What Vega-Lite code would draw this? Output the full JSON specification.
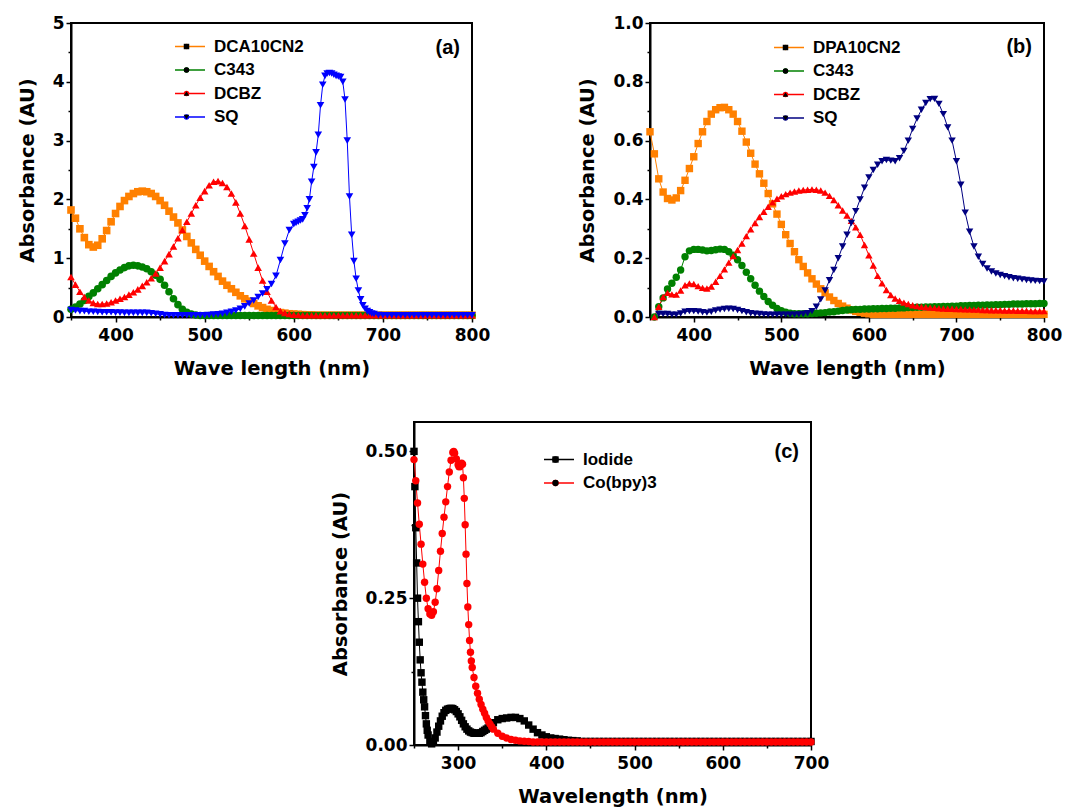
{
"$schema":"https://vega.github.io/schema/vega-lite/v6.json",
"background":"white",
"padding":{"left":16,"top":13,"right":5,"bottom":0},
"spacing":42,
"resolve":{"scale":{"x":"independent","y":"independent","color":"independent","shape":"independent","stroke":"independent"},"legend":{"color":"independent","shape":"independent","stroke":"independent"}},
"config":{
"view":{"stroke":"black","strokeWidth":2},
"axis":{"grid":false,"domainColor":"black","domainWidth":2,"tickColor":"black","tickWidth":1.5,"labelFont":"DejaVu Sans","labelFontWeight":"bold","labelFontSize":17,"labelColor":"black","titleFont":"DejaVu Sans","titleFontWeight":"bold","titleFontSize":19.5,"titleColor":"black","labelFlush":false,"labelOverlap":false},
"axisX":{"labelPadding":5,"titlePadding":16},
"axisY":{"labelPadding":2,"titlePadding":15},
"legend":{"labelFont":"Liberation Sans","labelFontWeight":"bold","labelFontSize":17,"labelColor":"black","padding":0,"clipHeight":17,"rowPadding":5.5,"title":null},
"title":{"font":"Liberation Sans","fontWeight":"bold","fontSize":20,"color":"black","anchor":"end","frame":"group","dx":-12}
},
"datasets":{
"a":[
{"s":"DCA10CN2","x":350,"y":1.82},{"s":"DCA10CN2","x":355,"y":1.68},{"s":"DCA10CN2","x":360,"y":1.5},{"s":"DCA10CN2","x":365,"y":1.35},{"s":"DCA10CN2","x":370,"y":1.23},{"s":"DCA10CN2","x":375,"y":1.19},{"s":"DCA10CN2","x":380,"y":1.22},{"s":"DCA10CN2","x":385,"y":1.33},{"s":"DCA10CN2","x":390,"y":1.47},{"s":"DCA10CN2","x":395,"y":1.62},{"s":"DCA10CN2","x":400,"y":1.76},{"s":"DCA10CN2","x":405,"y":1.88},{"s":"DCA10CN2","x":410,"y":1.98},{"s":"DCA10CN2","x":415,"y":2.05},{"s":"DCA10CN2","x":420,"y":2.1},{"s":"DCA10CN2","x":425,"y":2.13},{"s":"DCA10CN2","x":430,"y":2.14},{"s":"DCA10CN2","x":435,"y":2.13},{"s":"DCA10CN2","x":440,"y":2.1},{"s":"DCA10CN2","x":445,"y":2.05},{"s":"DCA10CN2","x":450,"y":1.98},{"s":"DCA10CN2","x":455,"y":1.9},{"s":"DCA10CN2","x":460,"y":1.8},{"s":"DCA10CN2","x":465,"y":1.7},{"s":"DCA10CN2","x":470,"y":1.6},{"s":"DCA10CN2","x":475,"y":1.48},{"s":"DCA10CN2","x":480,"y":1.37},{"s":"DCA10CN2","x":485,"y":1.26},{"s":"DCA10CN2","x":490,"y":1.15},{"s":"DCA10CN2","x":495,"y":1.05},{"s":"DCA10CN2","x":500,"y":0.95},{"s":"DCA10CN2","x":505,"y":0.86},{"s":"DCA10CN2","x":510,"y":0.77},{"s":"DCA10CN2","x":515,"y":0.69},{"s":"DCA10CN2","x":520,"y":0.61},{"s":"DCA10CN2","x":525,"y":0.54},{"s":"DCA10CN2","x":530,"y":0.48},{"s":"DCA10CN2","x":535,"y":0.42},{"s":"DCA10CN2","x":540,"y":0.36},{"s":"DCA10CN2","x":545,"y":0.31},{"s":"DCA10CN2","x":550,"y":0.27},{"s":"DCA10CN2","x":555,"y":0.23},{"s":"DCA10CN2","x":560,"y":0.19},{"s":"DCA10CN2","x":565,"y":0.16},{"s":"DCA10CN2","x":570,"y":0.13},{"s":"DCA10CN2","x":575,"y":0.11},{"s":"DCA10CN2","x":580,"y":0.09},{"s":"DCA10CN2","x":585,"y":0.075},{"s":"DCA10CN2","x":590,"y":0.065},{"s":"DCA10CN2","x":595,"y":0.055},{"s":"DCA10CN2","x":600,"y":0.05},{"s":"DCA10CN2","x":605,"y":0.045},{"s":"DCA10CN2","x":610,"y":0.04},{"s":"DCA10CN2","x":615,"y":0.035},{"s":"DCA10CN2","x":620,"y":0.035},{"s":"DCA10CN2","x":625,"y":0.03},{"s":"DCA10CN2","x":630,"y":0.03},{"s":"DCA10CN2","x":635,"y":0.03},{"s":"DCA10CN2","x":640,"y":0.03},{"s":"DCA10CN2","x":645,"y":0.03},{"s":"DCA10CN2","x":650,"y":0.03},{"s":"DCA10CN2","x":655,"y":0.03},{"s":"DCA10CN2","x":660,"y":0.03},{"s":"DCA10CN2","x":665,"y":0.03},{"s":"DCA10CN2","x":670,"y":0.03},{"s":"DCA10CN2","x":675,"y":0.03},{"s":"DCA10CN2","x":680,"y":0.03},{"s":"DCA10CN2","x":685,"y":0.03},{"s":"DCA10CN2","x":690,"y":0.03},{"s":"DCA10CN2","x":695,"y":0.03},{"s":"DCA10CN2","x":700,"y":0.03},{"s":"DCA10CN2","x":705,"y":0.03},{"s":"DCA10CN2","x":710,"y":0.03},{"s":"DCA10CN2","x":715,"y":0.03},{"s":"DCA10CN2","x":720,"y":0.03},{"s":"DCA10CN2","x":725,"y":0.03},{"s":"DCA10CN2","x":730,"y":0.03},{"s":"DCA10CN2","x":735,"y":0.03},{"s":"DCA10CN2","x":740,"y":0.03},{"s":"DCA10CN2","x":745,"y":0.03},{"s":"DCA10CN2","x":750,"y":0.03},{"s":"DCA10CN2","x":755,"y":0.03},{"s":"DCA10CN2","x":760,"y":0.03},{"s":"DCA10CN2","x":765,"y":0.03},{"s":"DCA10CN2","x":770,"y":0.03},{"s":"DCA10CN2","x":775,"y":0.03},{"s":"DCA10CN2","x":780,"y":0.03},{"s":"DCA10CN2","x":785,"y":0.03},{"s":"DCA10CN2","x":790,"y":0.03},{"s":"DCA10CN2","x":795,"y":0.03},{"s":"DCA10CN2","x":800,"y":0.03},
{"s":"C343","x":350,"y":0.13},{"s":"C343","x":355,"y":0.17},{"s":"C343","x":360,"y":0.22},{"s":"C343","x":365,"y":0.28},{"s":"C343","x":370,"y":0.35},{"s":"C343","x":375,"y":0.41},{"s":"C343","x":380,"y":0.48},{"s":"C343","x":385,"y":0.55},{"s":"C343","x":390,"y":0.62},{"s":"C343","x":395,"y":0.69},{"s":"C343","x":400,"y":0.75},{"s":"C343","x":405,"y":0.8},{"s":"C343","x":410,"y":0.84},{"s":"C343","x":415,"y":0.87},{"s":"C343","x":420,"y":0.88},{"s":"C343","x":425,"y":0.87},{"s":"C343","x":430,"y":0.85},{"s":"C343","x":435,"y":0.82},{"s":"C343","x":440,"y":0.77},{"s":"C343","x":445,"y":0.71},{"s":"C343","x":450,"y":0.64},{"s":"C343","x":455,"y":0.54},{"s":"C343","x":460,"y":0.43},{"s":"C343","x":465,"y":0.31},{"s":"C343","x":470,"y":0.21},{"s":"C343","x":475,"y":0.13},{"s":"C343","x":480,"y":0.08},{"s":"C343","x":485,"y":0.05},{"s":"C343","x":490,"y":0.035},{"s":"C343","x":495,"y":0.025},{"s":"C343","x":500,"y":0.025},{"s":"C343","x":505,"y":0.025},{"s":"C343","x":510,"y":0.025},{"s":"C343","x":515,"y":0.025},{"s":"C343","x":520,"y":0.025},{"s":"C343","x":525,"y":0.025},{"s":"C343","x":530,"y":0.025},{"s":"C343","x":535,"y":0.025},{"s":"C343","x":540,"y":0.025},{"s":"C343","x":545,"y":0.025},{"s":"C343","x":550,"y":0.025},{"s":"C343","x":555,"y":0.025},{"s":"C343","x":560,"y":0.025},{"s":"C343","x":565,"y":0.025},{"s":"C343","x":570,"y":0.025},{"s":"C343","x":575,"y":0.025},{"s":"C343","x":580,"y":0.025},{"s":"C343","x":585,"y":0.025},{"s":"C343","x":590,"y":0.025},{"s":"C343","x":595,"y":0.025},{"s":"C343","x":600,"y":0.025},{"s":"C343","x":605,"y":0.025},{"s":"C343","x":610,"y":0.025},{"s":"C343","x":615,"y":0.025},{"s":"C343","x":620,"y":0.025},{"s":"C343","x":625,"y":0.025},{"s":"C343","x":630,"y":0.025},{"s":"C343","x":635,"y":0.025},{"s":"C343","x":640,"y":0.025},{"s":"C343","x":645,"y":0.025},{"s":"C343","x":650,"y":0.025},{"s":"C343","x":655,"y":0.025},{"s":"C343","x":660,"y":0.025},{"s":"C343","x":665,"y":0.025},{"s":"C343","x":670,"y":0.025},{"s":"C343","x":675,"y":0.025},{"s":"C343","x":680,"y":0.025},{"s":"C343","x":685,"y":0.025},{"s":"C343","x":690,"y":0.025},{"s":"C343","x":695,"y":0.025},{"s":"C343","x":700,"y":0.025},{"s":"C343","x":705,"y":0.025},{"s":"C343","x":710,"y":0.025},{"s":"C343","x":715,"y":0.025},{"s":"C343","x":720,"y":0.025},{"s":"C343","x":725,"y":0.025},{"s":"C343","x":730,"y":0.025},{"s":"C343","x":735,"y":0.025},{"s":"C343","x":740,"y":0.025},{"s":"C343","x":745,"y":0.025},{"s":"C343","x":750,"y":0.025},{"s":"C343","x":755,"y":0.025},{"s":"C343","x":760,"y":0.025},{"s":"C343","x":765,"y":0.025},{"s":"C343","x":770,"y":0.025},{"s":"C343","x":775,"y":0.025},{"s":"C343","x":780,"y":0.025},{"s":"C343","x":785,"y":0.025},{"s":"C343","x":790,"y":0.025},{"s":"C343","x":795,"y":0.025},{"s":"C343","x":800,"y":0.025},
{"s":"DCBZ","x":350,"y":0.68},{"s":"DCBZ","x":355,"y":0.55},{"s":"DCBZ","x":360,"y":0.43},{"s":"DCBZ","x":365,"y":0.34},{"s":"DCBZ","x":370,"y":0.28},{"s":"DCBZ","x":375,"y":0.24},{"s":"DCBZ","x":380,"y":0.22},{"s":"DCBZ","x":385,"y":0.22},{"s":"DCBZ","x":390,"y":0.23},{"s":"DCBZ","x":395,"y":0.25},{"s":"DCBZ","x":400,"y":0.28},{"s":"DCBZ","x":405,"y":0.31},{"s":"DCBZ","x":410,"y":0.34},{"s":"DCBZ","x":415,"y":0.38},{"s":"DCBZ","x":420,"y":0.42},{"s":"DCBZ","x":425,"y":0.47},{"s":"DCBZ","x":430,"y":0.53},{"s":"DCBZ","x":435,"y":0.59},{"s":"DCBZ","x":440,"y":0.66},{"s":"DCBZ","x":445,"y":0.74},{"s":"DCBZ","x":450,"y":0.84},{"s":"DCBZ","x":455,"y":0.95},{"s":"DCBZ","x":460,"y":1.07},{"s":"DCBZ","x":465,"y":1.2},{"s":"DCBZ","x":470,"y":1.34},{"s":"DCBZ","x":475,"y":1.48},{"s":"DCBZ","x":480,"y":1.62},{"s":"DCBZ","x":485,"y":1.76},{"s":"DCBZ","x":490,"y":1.9},{"s":"DCBZ","x":495,"y":2.03},{"s":"DCBZ","x":500,"y":2.14},{"s":"DCBZ","x":505,"y":2.24},{"s":"DCBZ","x":510,"y":2.3},{"s":"DCBZ","x":515,"y":2.31},{"s":"DCBZ","x":520,"y":2.28},{"s":"DCBZ","x":525,"y":2.21},{"s":"DCBZ","x":530,"y":2.1},{"s":"DCBZ","x":535,"y":1.95},{"s":"DCBZ","x":540,"y":1.76},{"s":"DCBZ","x":545,"y":1.55},{"s":"DCBZ","x":550,"y":1.32},{"s":"DCBZ","x":555,"y":1.08},{"s":"DCBZ","x":560,"y":0.84},{"s":"DCBZ","x":565,"y":0.62},{"s":"DCBZ","x":570,"y":0.43},{"s":"DCBZ","x":575,"y":0.28},{"s":"DCBZ","x":580,"y":0.17},{"s":"DCBZ","x":585,"y":0.1},{"s":"DCBZ","x":590,"y":0.07},{"s":"DCBZ","x":595,"y":0.05},{"s":"DCBZ","x":600,"y":0.04},{"s":"DCBZ","x":605,"y":0.035},{"s":"DCBZ","x":610,"y":0.03},{"s":"DCBZ","x":615,"y":0.03},{"s":"DCBZ","x":620,"y":0.03},{"s":"DCBZ","x":625,"y":0.03},{"s":"DCBZ","x":630,"y":0.03},{"s":"DCBZ","x":635,"y":0.03},{"s":"DCBZ","x":640,"y":0.03},{"s":"DCBZ","x":645,"y":0.03},{"s":"DCBZ","x":650,"y":0.03},{"s":"DCBZ","x":655,"y":0.03},{"s":"DCBZ","x":660,"y":0.03},{"s":"DCBZ","x":665,"y":0.03},{"s":"DCBZ","x":670,"y":0.03},{"s":"DCBZ","x":675,"y":0.03},{"s":"DCBZ","x":680,"y":0.03},{"s":"DCBZ","x":685,"y":0.03},{"s":"DCBZ","x":690,"y":0.03},{"s":"DCBZ","x":695,"y":0.03},{"s":"DCBZ","x":700,"y":0.03},{"s":"DCBZ","x":705,"y":0.03},{"s":"DCBZ","x":710,"y":0.03},{"s":"DCBZ","x":715,"y":0.03},{"s":"DCBZ","x":720,"y":0.03},{"s":"DCBZ","x":725,"y":0.03},{"s":"DCBZ","x":730,"y":0.03},{"s":"DCBZ","x":735,"y":0.03},{"s":"DCBZ","x":740,"y":0.03},{"s":"DCBZ","x":745,"y":0.03},{"s":"DCBZ","x":750,"y":0.03},{"s":"DCBZ","x":755,"y":0.03},{"s":"DCBZ","x":760,"y":0.03},{"s":"DCBZ","x":765,"y":0.03},{"s":"DCBZ","x":770,"y":0.03},{"s":"DCBZ","x":775,"y":0.03},{"s":"DCBZ","x":780,"y":0.03},{"s":"DCBZ","x":785,"y":0.03},{"s":"DCBZ","x":790,"y":0.03},{"s":"DCBZ","x":795,"y":0.03},{"s":"DCBZ","x":800,"y":0.03},
{"s":"SQ","x":350,"y":0.12},{"s":"SQ","x":355,"y":0.11},{"s":"SQ","x":360,"y":0.1},{"s":"SQ","x":365,"y":0.1},{"s":"SQ","x":370,"y":0.09},{"s":"SQ","x":375,"y":0.09},{"s":"SQ","x":380,"y":0.085},{"s":"SQ","x":385,"y":0.08},{"s":"SQ","x":390,"y":0.08},{"s":"SQ","x":395,"y":0.08},{"s":"SQ","x":400,"y":0.075},{"s":"SQ","x":405,"y":0.075},{"s":"SQ","x":410,"y":0.07},{"s":"SQ","x":415,"y":0.07},{"s":"SQ","x":420,"y":0.07},{"s":"SQ","x":425,"y":0.07},{"s":"SQ","x":430,"y":0.07},{"s":"SQ","x":435,"y":0.07},{"s":"SQ","x":440,"y":0.065},{"s":"SQ","x":445,"y":0.055},{"s":"SQ","x":450,"y":0.045},{"s":"SQ","x":455,"y":0.035},{"s":"SQ","x":460,"y":0.03},{"s":"SQ","x":465,"y":0.03},{"s":"SQ","x":470,"y":0.03},{"s":"SQ","x":475,"y":0.03},{"s":"SQ","x":480,"y":0.03},{"s":"SQ","x":485,"y":0.03},{"s":"SQ","x":490,"y":0.03},{"s":"SQ","x":495,"y":0.03},{"s":"SQ","x":500,"y":0.03},{"s":"SQ","x":505,"y":0.035},{"s":"SQ","x":510,"y":0.04},{"s":"SQ","x":515,"y":0.045},{"s":"SQ","x":520,"y":0.055},{"s":"SQ","x":525,"y":0.07},{"s":"SQ","x":530,"y":0.09},{"s":"SQ","x":535,"y":0.11},{"s":"SQ","x":540,"y":0.14},{"s":"SQ","x":545,"y":0.18},{"s":"SQ","x":550,"y":0.23},{"s":"SQ","x":555,"y":0.28},{"s":"SQ","x":560,"y":0.34},{"s":"SQ","x":565,"y":0.4},{"s":"SQ","x":570,"y":0.47},{"s":"SQ","x":575,"y":0.56},{"s":"SQ","x":580,"y":0.7},{"s":"SQ","x":585,"y":0.97},{"s":"SQ","x":590,"y":1.25},{"s":"SQ","x":595,"y":1.48},{"s":"SQ","x":600,"y":1.58},{"s":"SQ","x":602.5,"y":1.6},{"s":"SQ","x":605,"y":1.62},{"s":"SQ","x":607.5,"y":1.64},{"s":"SQ","x":610,"y":1.66},{"s":"SQ","x":612.5,"y":1.73},{"s":"SQ","x":615,"y":1.85},{"s":"SQ","x":617.5,"y":2.0},{"s":"SQ","x":620,"y":2.3},{"s":"SQ","x":622.5,"y":2.55},{"s":"SQ","x":625,"y":2.8},{"s":"SQ","x":627.5,"y":3.1},{"s":"SQ","x":630,"y":3.6},{"s":"SQ","x":632.5,"y":3.95},{"s":"SQ","x":635,"y":4.1},{"s":"SQ","x":637.5,"y":4.14},{"s":"SQ","x":640,"y":4.15},{"s":"SQ","x":642.5,"y":4.14},{"s":"SQ","x":645,"y":4.12},{"s":"SQ","x":647.5,"y":4.1},{"s":"SQ","x":650,"y":4.09},{"s":"SQ","x":652.5,"y":4.08},{"s":"SQ","x":655,"y":4.0},{"s":"SQ","x":657.5,"y":3.7},{"s":"SQ","x":660,"y":3.0},{"s":"SQ","x":662.5,"y":2.05},{"s":"SQ","x":665,"y":1.4},{"s":"SQ","x":667.5,"y":0.95},{"s":"SQ","x":670,"y":0.65},{"s":"SQ","x":672.5,"y":0.45},{"s":"SQ","x":675,"y":0.3},{"s":"SQ","x":677.5,"y":0.2},{"s":"SQ","x":680,"y":0.14},{"s":"SQ","x":682.5,"y":0.1},{"s":"SQ","x":685,"y":0.08},{"s":"SQ","x":687.5,"y":0.06},{"s":"SQ","x":690,"y":0.05},{"s":"SQ","x":695,"y":0.035},{"s":"SQ","x":700,"y":0.03},{"s":"SQ","x":705,"y":0.03},{"s":"SQ","x":710,"y":0.03},{"s":"SQ","x":715,"y":0.03},{"s":"SQ","x":720,"y":0.03},{"s":"SQ","x":725,"y":0.03},{"s":"SQ","x":730,"y":0.03},{"s":"SQ","x":735,"y":0.03},{"s":"SQ","x":740,"y":0.03},{"s":"SQ","x":745,"y":0.03},{"s":"SQ","x":750,"y":0.03},{"s":"SQ","x":755,"y":0.03},{"s":"SQ","x":760,"y":0.03},{"s":"SQ","x":765,"y":0.03},{"s":"SQ","x":770,"y":0.03},{"s":"SQ","x":775,"y":0.03},{"s":"SQ","x":780,"y":0.03},{"s":"SQ","x":785,"y":0.03},{"s":"SQ","x":790,"y":0.03},{"s":"SQ","x":795,"y":0.03},{"s":"SQ","x":800,"y":0.03}
],
"b":[
{"s":"DPA10CN2","x":350,"y":0.63},{"s":"DPA10CN2","x":355,"y":0.555},{"s":"DPA10CN2","x":360,"y":0.47},{"s":"DPA10CN2","x":365,"y":0.425},{"s":"DPA10CN2","x":370,"y":0.403},{"s":"DPA10CN2","x":375,"y":0.398},{"s":"DPA10CN2","x":380,"y":0.405},{"s":"DPA10CN2","x":385,"y":0.43},{"s":"DPA10CN2","x":390,"y":0.465},{"s":"DPA10CN2","x":395,"y":0.505},{"s":"DPA10CN2","x":400,"y":0.545},{"s":"DPA10CN2","x":405,"y":0.59},{"s":"DPA10CN2","x":410,"y":0.63},{"s":"DPA10CN2","x":415,"y":0.665},{"s":"DPA10CN2","x":420,"y":0.69},{"s":"DPA10CN2","x":425,"y":0.705},{"s":"DPA10CN2","x":430,"y":0.712},{"s":"DPA10CN2","x":435,"y":0.713},{"s":"DPA10CN2","x":440,"y":0.705},{"s":"DPA10CN2","x":445,"y":0.69},{"s":"DPA10CN2","x":450,"y":0.665},{"s":"DPA10CN2","x":455,"y":0.632},{"s":"DPA10CN2","x":460,"y":0.595},{"s":"DPA10CN2","x":465,"y":0.557},{"s":"DPA10CN2","x":470,"y":0.52},{"s":"DPA10CN2","x":475,"y":0.487},{"s":"DPA10CN2","x":480,"y":0.455},{"s":"DPA10CN2","x":485,"y":0.42},{"s":"DPA10CN2","x":490,"y":0.385},{"s":"DPA10CN2","x":495,"y":0.35},{"s":"DPA10CN2","x":500,"y":0.315},{"s":"DPA10CN2","x":505,"y":0.28},{"s":"DPA10CN2","x":510,"y":0.25},{"s":"DPA10CN2","x":515,"y":0.222},{"s":"DPA10CN2","x":520,"y":0.195},{"s":"DPA10CN2","x":525,"y":0.172},{"s":"DPA10CN2","x":530,"y":0.15},{"s":"DPA10CN2","x":535,"y":0.13},{"s":"DPA10CN2","x":540,"y":0.112},{"s":"DPA10CN2","x":545,"y":0.096},{"s":"DPA10CN2","x":550,"y":0.082},{"s":"DPA10CN2","x":555,"y":0.068},{"s":"DPA10CN2","x":560,"y":0.056},{"s":"DPA10CN2","x":565,"y":0.046},{"s":"DPA10CN2","x":570,"y":0.037},{"s":"DPA10CN2","x":575,"y":0.03},{"s":"DPA10CN2","x":580,"y":0.024},{"s":"DPA10CN2","x":585,"y":0.019},{"s":"DPA10CN2","x":590,"y":0.016},{"s":"DPA10CN2","x":595,"y":0.013},{"s":"DPA10CN2","x":600,"y":0.011},{"s":"DPA10CN2","x":605,"y":0.009},{"s":"DPA10CN2","x":610,"y":0.009},{"s":"DPA10CN2","x":615,"y":0.009},{"s":"DPA10CN2","x":620,"y":0.009},{"s":"DPA10CN2","x":625,"y":0.009},{"s":"DPA10CN2","x":630,"y":0.009},{"s":"DPA10CN2","x":635,"y":0.009},{"s":"DPA10CN2","x":640,"y":0.009},{"s":"DPA10CN2","x":645,"y":0.009},{"s":"DPA10CN2","x":650,"y":0.009},{"s":"DPA10CN2","x":655,"y":0.009},{"s":"DPA10CN2","x":660,"y":0.009},{"s":"DPA10CN2","x":665,"y":0.009},{"s":"DPA10CN2","x":670,"y":0.009},{"s":"DPA10CN2","x":675,"y":0.009},{"s":"DPA10CN2","x":680,"y":0.009},{"s":"DPA10CN2","x":685,"y":0.009},{"s":"DPA10CN2","x":690,"y":0.009},{"s":"DPA10CN2","x":695,"y":0.009},{"s":"DPA10CN2","x":700,"y":0.009},{"s":"DPA10CN2","x":705,"y":0.009},{"s":"DPA10CN2","x":710,"y":0.009},{"s":"DPA10CN2","x":715,"y":0.009},{"s":"DPA10CN2","x":720,"y":0.009},{"s":"DPA10CN2","x":725,"y":0.009},{"s":"DPA10CN2","x":730,"y":0.009},{"s":"DPA10CN2","x":735,"y":0.009},{"s":"DPA10CN2","x":740,"y":0.009},{"s":"DPA10CN2","x":745,"y":0.009},{"s":"DPA10CN2","x":750,"y":0.009},{"s":"DPA10CN2","x":755,"y":0.009},{"s":"DPA10CN2","x":760,"y":0.009},{"s":"DPA10CN2","x":765,"y":0.009},{"s":"DPA10CN2","x":770,"y":0.009},{"s":"DPA10CN2","x":775,"y":0.009},{"s":"DPA10CN2","x":780,"y":0.009},{"s":"DPA10CN2","x":785,"y":0.009},{"s":"DPA10CN2","x":790,"y":0.009},{"s":"DPA10CN2","x":795,"y":0.009},{"s":"DPA10CN2","x":800,"y":0.009},
{"s":"C343","x":355,"y":0.0},{"s":"C343","x":360,"y":0.035},{"s":"C343","x":365,"y":0.065},{"s":"C343","x":370,"y":0.095},{"s":"C343","x":375,"y":0.115},{"s":"C343","x":380,"y":0.135},{"s":"C343","x":385,"y":0.16},{"s":"C343","x":390,"y":0.205},{"s":"C343","x":395,"y":0.225},{"s":"C343","x":400,"y":0.23},{"s":"C343","x":405,"y":0.23},{"s":"C343","x":410,"y":0.228},{"s":"C343","x":415,"y":0.225},{"s":"C343","x":420,"y":0.226},{"s":"C343","x":425,"y":0.229},{"s":"C343","x":430,"y":0.231},{"s":"C343","x":435,"y":0.23},{"s":"C343","x":440,"y":0.222},{"s":"C343","x":445,"y":0.21},{"s":"C343","x":450,"y":0.195},{"s":"C343","x":455,"y":0.175},{"s":"C343","x":460,"y":0.152},{"s":"C343","x":465,"y":0.13},{"s":"C343","x":470,"y":0.108},{"s":"C343","x":475,"y":0.088},{"s":"C343","x":480,"y":0.07},{"s":"C343","x":485,"y":0.053},{"s":"C343","x":490,"y":0.04},{"s":"C343","x":495,"y":0.029},{"s":"C343","x":500,"y":0.021},{"s":"C343","x":505,"y":0.016},{"s":"C343","x":510,"y":0.013},{"s":"C343","x":515,"y":0.011},{"s":"C343","x":520,"y":0.011},{"s":"C343","x":525,"y":0.011},{"s":"C343","x":530,"y":0.011},{"s":"C343","x":535,"y":0.012},{"s":"C343","x":540,"y":0.013},{"s":"C343","x":545,"y":0.014},{"s":"C343","x":550,"y":0.015},{"s":"C343","x":555,"y":0.017},{"s":"C343","x":560,"y":0.018},{"s":"C343","x":565,"y":0.02},{"s":"C343","x":570,"y":0.022},{"s":"C343","x":575,"y":0.024},{"s":"C343","x":580,"y":0.025},{"s":"C343","x":585,"y":0.026},{"s":"C343","x":590,"y":0.026},{"s":"C343","x":595,"y":0.027},{"s":"C343","x":600,"y":0.027},{"s":"C343","x":605,"y":0.028},{"s":"C343","x":610,"y":0.028},{"s":"C343","x":615,"y":0.029},{"s":"C343","x":620,"y":0.029},{"s":"C343","x":625,"y":0.03},{"s":"C343","x":630,"y":0.03},{"s":"C343","x":635,"y":0.031},{"s":"C343","x":640,"y":0.031},{"s":"C343","x":645,"y":0.032},{"s":"C343","x":650,"y":0.032},{"s":"C343","x":655,"y":0.033},{"s":"C343","x":660,"y":0.033},{"s":"C343","x":665,"y":0.034},{"s":"C343","x":670,"y":0.034},{"s":"C343","x":675,"y":0.035},{"s":"C343","x":680,"y":0.035},{"s":"C343","x":685,"y":0.036},{"s":"C343","x":690,"y":0.036},{"s":"C343","x":695,"y":0.037},{"s":"C343","x":700,"y":0.037},{"s":"C343","x":705,"y":0.038},{"s":"C343","x":710,"y":0.038},{"s":"C343","x":715,"y":0.039},{"s":"C343","x":720,"y":0.039},{"s":"C343","x":725,"y":0.04},{"s":"C343","x":730,"y":0.04},{"s":"C343","x":735,"y":0.041},{"s":"C343","x":740,"y":0.041},{"s":"C343","x":745,"y":0.042},{"s":"C343","x":750,"y":0.042},{"s":"C343","x":755,"y":0.043},{"s":"C343","x":760,"y":0.043},{"s":"C343","x":765,"y":0.044},{"s":"C343","x":770,"y":0.044},{"s":"C343","x":775,"y":0.044},{"s":"C343","x":780,"y":0.045},{"s":"C343","x":785,"y":0.045},{"s":"C343","x":790,"y":0.045},{"s":"C343","x":795,"y":0.046},{"s":"C343","x":800,"y":0.046},
{"s":"DCBZ","x":355,"y":0.0},{"s":"DCBZ","x":360,"y":0.035},{"s":"DCBZ","x":365,"y":0.068},{"s":"DCBZ","x":370,"y":0.082},{"s":"DCBZ","x":375,"y":0.077},{"s":"DCBZ","x":380,"y":0.076},{"s":"DCBZ","x":385,"y":0.09},{"s":"DCBZ","x":390,"y":0.108},{"s":"DCBZ","x":395,"y":0.114},{"s":"DCBZ","x":400,"y":0.112},{"s":"DCBZ","x":405,"y":0.105},{"s":"DCBZ","x":410,"y":0.099},{"s":"DCBZ","x":415,"y":0.097},{"s":"DCBZ","x":420,"y":0.104},{"s":"DCBZ","x":425,"y":0.12},{"s":"DCBZ","x":430,"y":0.14},{"s":"DCBZ","x":435,"y":0.162},{"s":"DCBZ","x":440,"y":0.185},{"s":"DCBZ","x":445,"y":0.207},{"s":"DCBZ","x":450,"y":0.228},{"s":"DCBZ","x":455,"y":0.25},{"s":"DCBZ","x":460,"y":0.275},{"s":"DCBZ","x":465,"y":0.298},{"s":"DCBZ","x":470,"y":0.32},{"s":"DCBZ","x":475,"y":0.34},{"s":"DCBZ","x":480,"y":0.358},{"s":"DCBZ","x":485,"y":0.375},{"s":"DCBZ","x":490,"y":0.39},{"s":"DCBZ","x":495,"y":0.402},{"s":"DCBZ","x":500,"y":0.411},{"s":"DCBZ","x":505,"y":0.418},{"s":"DCBZ","x":510,"y":0.423},{"s":"DCBZ","x":515,"y":0.427},{"s":"DCBZ","x":520,"y":0.43},{"s":"DCBZ","x":525,"y":0.432},{"s":"DCBZ","x":530,"y":0.433},{"s":"DCBZ","x":535,"y":0.434},{"s":"DCBZ","x":540,"y":0.433},{"s":"DCBZ","x":545,"y":0.43},{"s":"DCBZ","x":550,"y":0.423},{"s":"DCBZ","x":555,"y":0.412},{"s":"DCBZ","x":560,"y":0.398},{"s":"DCBZ","x":565,"y":0.38},{"s":"DCBZ","x":570,"y":0.362},{"s":"DCBZ","x":575,"y":0.345},{"s":"DCBZ","x":580,"y":0.327},{"s":"DCBZ","x":585,"y":0.305},{"s":"DCBZ","x":590,"y":0.28},{"s":"DCBZ","x":595,"y":0.245},{"s":"DCBZ","x":600,"y":0.21},{"s":"DCBZ","x":605,"y":0.175},{"s":"DCBZ","x":610,"y":0.14},{"s":"DCBZ","x":615,"y":0.115},{"s":"DCBZ","x":620,"y":0.092},{"s":"DCBZ","x":625,"y":0.075},{"s":"DCBZ","x":630,"y":0.063},{"s":"DCBZ","x":635,"y":0.055},{"s":"DCBZ","x":640,"y":0.049},{"s":"DCBZ","x":645,"y":0.044},{"s":"DCBZ","x":650,"y":0.04},{"s":"DCBZ","x":655,"y":0.037},{"s":"DCBZ","x":660,"y":0.035},{"s":"DCBZ","x":665,"y":0.033},{"s":"DCBZ","x":670,"y":0.032},{"s":"DCBZ","x":675,"y":0.031},{"s":"DCBZ","x":680,"y":0.03},{"s":"DCBZ","x":685,"y":0.029},{"s":"DCBZ","x":690,"y":0.028},{"s":"DCBZ","x":695,"y":0.028},{"s":"DCBZ","x":700,"y":0.027},{"s":"DCBZ","x":705,"y":0.027},{"s":"DCBZ","x":710,"y":0.026},{"s":"DCBZ","x":715,"y":0.026},{"s":"DCBZ","x":720,"y":0.025},{"s":"DCBZ","x":725,"y":0.025},{"s":"DCBZ","x":730,"y":0.024},{"s":"DCBZ","x":735,"y":0.024},{"s":"DCBZ","x":740,"y":0.023},{"s":"DCBZ","x":745,"y":0.023},{"s":"DCBZ","x":750,"y":0.023},{"s":"DCBZ","x":755,"y":0.022},{"s":"DCBZ","x":760,"y":0.022},{"s":"DCBZ","x":765,"y":0.022},{"s":"DCBZ","x":770,"y":0.021},{"s":"DCBZ","x":775,"y":0.021},{"s":"DCBZ","x":780,"y":0.021},{"s":"DCBZ","x":785,"y":0.02},{"s":"DCBZ","x":790,"y":0.02},{"s":"DCBZ","x":795,"y":0.02},{"s":"DCBZ","x":800,"y":0.02},
{"s":"SQ","x":360,"y":0.01},{"s":"SQ","x":365,"y":0.01},{"s":"SQ","x":370,"y":0.01},{"s":"SQ","x":375,"y":0.008},{"s":"SQ","x":380,"y":0.008},{"s":"SQ","x":385,"y":0.012},{"s":"SQ","x":390,"y":0.018},{"s":"SQ","x":395,"y":0.02},{"s":"SQ","x":400,"y":0.02},{"s":"SQ","x":405,"y":0.019},{"s":"SQ","x":410,"y":0.016},{"s":"SQ","x":415,"y":0.015},{"s":"SQ","x":420,"y":0.018},{"s":"SQ","x":425,"y":0.022},{"s":"SQ","x":430,"y":0.025},{"s":"SQ","x":435,"y":0.027},{"s":"SQ","x":440,"y":0.028},{"s":"SQ","x":445,"y":0.027},{"s":"SQ","x":450,"y":0.024},{"s":"SQ","x":455,"y":0.02},{"s":"SQ","x":460,"y":0.016},{"s":"SQ","x":465,"y":0.013},{"s":"SQ","x":470,"y":0.011},{"s":"SQ","x":475,"y":0.01},{"s":"SQ","x":480,"y":0.009},{"s":"SQ","x":485,"y":0.008},{"s":"SQ","x":490,"y":0.008},{"s":"SQ","x":495,"y":0.008},{"s":"SQ","x":500,"y":0.008},{"s":"SQ","x":505,"y":0.008},{"s":"SQ","x":510,"y":0.008},{"s":"SQ","x":515,"y":0.008},{"s":"SQ","x":520,"y":0.009},{"s":"SQ","x":525,"y":0.01},{"s":"SQ","x":530,"y":0.013},{"s":"SQ","x":535,"y":0.02},{"s":"SQ","x":540,"y":0.035},{"s":"SQ","x":545,"y":0.06},{"s":"SQ","x":550,"y":0.09},{"s":"SQ","x":555,"y":0.125},{"s":"SQ","x":560,"y":0.16},{"s":"SQ","x":565,"y":0.2},{"s":"SQ","x":570,"y":0.24},{"s":"SQ","x":575,"y":0.28},{"s":"SQ","x":580,"y":0.32},{"s":"SQ","x":585,"y":0.36},{"s":"SQ","x":590,"y":0.4},{"s":"SQ","x":595,"y":0.44},{"s":"SQ","x":600,"y":0.475},{"s":"SQ","x":605,"y":0.5},{"s":"SQ","x":610,"y":0.518},{"s":"SQ","x":615,"y":0.53},{"s":"SQ","x":620,"y":0.534},{"s":"SQ","x":625,"y":0.532},{"s":"SQ","x":630,"y":0.53},{"s":"SQ","x":635,"y":0.54},{"s":"SQ","x":640,"y":0.565},{"s":"SQ","x":645,"y":0.6},{"s":"SQ","x":650,"y":0.64},{"s":"SQ","x":655,"y":0.675},{"s":"SQ","x":660,"y":0.705},{"s":"SQ","x":665,"y":0.728},{"s":"SQ","x":670,"y":0.741},{"s":"SQ","x":675,"y":0.742},{"s":"SQ","x":680,"y":0.725},{"s":"SQ","x":685,"y":0.69},{"s":"SQ","x":690,"y":0.645},{"s":"SQ","x":695,"y":0.6},{"s":"SQ","x":700,"y":0.53},{"s":"SQ","x":705,"y":0.45},{"s":"SQ","x":710,"y":0.355},{"s":"SQ","x":715,"y":0.29},{"s":"SQ","x":720,"y":0.24},{"s":"SQ","x":725,"y":0.205},{"s":"SQ","x":730,"y":0.18},{"s":"SQ","x":735,"y":0.165},{"s":"SQ","x":740,"y":0.155},{"s":"SQ","x":745,"y":0.148},{"s":"SQ","x":750,"y":0.143},{"s":"SQ","x":755,"y":0.139},{"s":"SQ","x":760,"y":0.135},{"s":"SQ","x":765,"y":0.132},{"s":"SQ","x":770,"y":0.13},{"s":"SQ","x":775,"y":0.128},{"s":"SQ","x":780,"y":0.126},{"s":"SQ","x":785,"y":0.124},{"s":"SQ","x":790,"y":0.123},{"s":"SQ","x":795,"y":0.122},{"s":"SQ","x":800,"y":0.121}
],
"c":[
{"s":"Iodide","x":250,"y":0.5},{"s":"Iodide","x":251,"y":0.44},{"s":"Iodide","x":252,"y":0.37},{"s":"Iodide","x":253,"y":0.31},{"s":"Iodide","x":254,"y":0.25},{"s":"Iodide","x":255,"y":0.21},{"s":"Iodide","x":256,"y":0.175},{"s":"Iodide","x":257,"y":0.145},{"s":"Iodide","x":258,"y":0.123},{"s":"Iodide","x":259,"y":0.107},{"s":"Iodide","x":260,"y":0.09},{"s":"Iodide","x":261,"y":0.077},{"s":"Iodide","x":262,"y":0.065},{"s":"Iodide","x":263,"y":0.05},{"s":"Iodide","x":264,"y":0.036},{"s":"Iodide","x":265,"y":0.025},{"s":"Iodide","x":266,"y":0.017},{"s":"Iodide","x":268,"y":0.006},{"s":"Iodide","x":270,"y":0.002},{"s":"Iodide","x":272,"y":0.005},{"s":"Iodide","x":274,"y":0.012},{"s":"Iodide","x":276,"y":0.022},{"s":"Iodide","x":278,"y":0.032},{"s":"Iodide","x":280,"y":0.041},{"s":"Iodide","x":282,"y":0.049},{"s":"Iodide","x":284,"y":0.055},{"s":"Iodide","x":286,"y":0.059},{"s":"Iodide","x":288,"y":0.061},{"s":"Iodide","x":290,"y":0.062},{"s":"Iodide","x":292,"y":0.0625},{"s":"Iodide","x":294,"y":0.062},{"s":"Iodide","x":296,"y":0.06},{"s":"Iodide","x":298,"y":0.057},{"s":"Iodide","x":300,"y":0.053},{"s":"Iodide","x":302,"y":0.048},{"s":"Iodide","x":304,"y":0.042},{"s":"Iodide","x":306,"y":0.036},{"s":"Iodide","x":308,"y":0.031},{"s":"Iodide","x":310,"y":0.027},{"s":"Iodide","x":312,"y":0.024},{"s":"Iodide","x":314,"y":0.022},{"s":"Iodide","x":316,"y":0.021},{"s":"Iodide","x":318,"y":0.02},{"s":"Iodide","x":320,"y":0.02},{"s":"Iodide","x":322,"y":0.02},{"s":"Iodide","x":324,"y":0.02},{"s":"Iodide","x":326,"y":0.021},{"s":"Iodide","x":328,"y":0.023},{"s":"Iodide","x":330,"y":0.025},{"s":"Iodide","x":332,"y":0.027},{"s":"Iodide","x":334,"y":0.029},{"s":"Iodide","x":336,"y":0.032},{"s":"Iodide","x":338,"y":0.035},{"s":"Iodide","x":340,"y":0.038},{"s":"Iodide","x":345,"y":0.043},{"s":"Iodide","x":350,"y":0.045},{"s":"Iodide","x":355,"y":0.046},{"s":"Iodide","x":360,"y":0.047},{"s":"Iodide","x":365,"y":0.047},{"s":"Iodide","x":370,"y":0.045},{"s":"Iodide","x":375,"y":0.041},{"s":"Iodide","x":380,"y":0.034},{"s":"Iodide","x":385,"y":0.027},{"s":"Iodide","x":390,"y":0.021},{"s":"Iodide","x":395,"y":0.017},{"s":"Iodide","x":400,"y":0.014},{"s":"Iodide","x":405,"y":0.012},{"s":"Iodide","x":410,"y":0.011},{"s":"Iodide","x":415,"y":0.01},{"s":"Iodide","x":420,"y":0.009},{"s":"Iodide","x":425,"y":0.008},{"s":"Iodide","x":430,"y":0.0075},{"s":"Iodide","x":435,"y":0.007},{"s":"Iodide","x":440,"y":0.006},{"s":"Iodide","x":445,"y":0.006},{"s":"Iodide","x":450,"y":0.006},{"s":"Iodide","x":455,"y":0.006},{"s":"Iodide","x":460,"y":0.006},{"s":"Iodide","x":465,"y":0.006},{"s":"Iodide","x":470,"y":0.006},{"s":"Iodide","x":475,"y":0.006},{"s":"Iodide","x":480,"y":0.006},{"s":"Iodide","x":485,"y":0.006},{"s":"Iodide","x":490,"y":0.006},{"s":"Iodide","x":495,"y":0.006},{"s":"Iodide","x":500,"y":0.006},{"s":"Iodide","x":505,"y":0.006},{"s":"Iodide","x":510,"y":0.006},{"s":"Iodide","x":515,"y":0.006},{"s":"Iodide","x":520,"y":0.006},{"s":"Iodide","x":525,"y":0.006},{"s":"Iodide","x":530,"y":0.006},{"s":"Iodide","x":535,"y":0.006},{"s":"Iodide","x":540,"y":0.006},{"s":"Iodide","x":545,"y":0.006},{"s":"Iodide","x":550,"y":0.006},{"s":"Iodide","x":555,"y":0.006},{"s":"Iodide","x":560,"y":0.006},{"s":"Iodide","x":565,"y":0.006},{"s":"Iodide","x":570,"y":0.006},{"s":"Iodide","x":575,"y":0.006},{"s":"Iodide","x":580,"y":0.006},{"s":"Iodide","x":585,"y":0.006},{"s":"Iodide","x":590,"y":0.006},{"s":"Iodide","x":595,"y":0.006},{"s":"Iodide","x":600,"y":0.006},{"s":"Iodide","x":605,"y":0.006},{"s":"Iodide","x":610,"y":0.006},{"s":"Iodide","x":615,"y":0.006},{"s":"Iodide","x":620,"y":0.006},{"s":"Iodide","x":625,"y":0.006},{"s":"Iodide","x":630,"y":0.006},{"s":"Iodide","x":635,"y":0.006},{"s":"Iodide","x":640,"y":0.006},{"s":"Iodide","x":645,"y":0.006},{"s":"Iodide","x":650,"y":0.006},{"s":"Iodide","x":655,"y":0.006},{"s":"Iodide","x":660,"y":0.006},{"s":"Iodide","x":665,"y":0.006},{"s":"Iodide","x":670,"y":0.006},{"s":"Iodide","x":675,"y":0.006},{"s":"Iodide","x":680,"y":0.006},{"s":"Iodide","x":685,"y":0.006},{"s":"Iodide","x":690,"y":0.006},{"s":"Iodide","x":695,"y":0.006},{"s":"Iodide","x":700,"y":0.006},
{"s":"Co(bpy)3","x":250,"y":0.486},{"s":"Co(bpy)3","x":252,"y":0.45},{"s":"Co(bpy)3","x":254,"y":0.412},{"s":"Co(bpy)3","x":256,"y":0.376},{"s":"Co(bpy)3","x":258,"y":0.342},{"s":"Co(bpy)3","x":260,"y":0.308},{"s":"Co(bpy)3","x":262,"y":0.277},{"s":"Co(bpy)3","x":264,"y":0.25},{"s":"Co(bpy)3","x":266,"y":0.232},{"s":"Co(bpy)3","x":268,"y":0.223},{"s":"Co(bpy)3","x":270,"y":0.221},{"s":"Co(bpy)3","x":272,"y":0.227},{"s":"Co(bpy)3","x":274,"y":0.243},{"s":"Co(bpy)3","x":276,"y":0.266},{"s":"Co(bpy)3","x":278,"y":0.297},{"s":"Co(bpy)3","x":280,"y":0.33},{"s":"Co(bpy)3","x":282,"y":0.36},{"s":"Co(bpy)3","x":284,"y":0.388},{"s":"Co(bpy)3","x":286,"y":0.414},{"s":"Co(bpy)3","x":288,"y":0.44},{"s":"Co(bpy)3","x":290,"y":0.465},{"s":"Co(bpy)3","x":292,"y":0.485},{"s":"Co(bpy)3","x":294,"y":0.498},{"s":"Co(bpy)3","x":295,"y":0.5},{"s":"Co(bpy)3","x":296,"y":0.497},{"s":"Co(bpy)3","x":298,"y":0.487},{"s":"Co(bpy)3","x":300,"y":0.477},{"s":"Co(bpy)3","x":301,"y":0.474},{"s":"Co(bpy)3","x":302,"y":0.474},{"s":"Co(bpy)3","x":303,"y":0.477},{"s":"Co(bpy)3","x":304,"y":0.48},{"s":"Co(bpy)3","x":305,"y":0.478},{"s":"Co(bpy)3","x":306,"y":0.455},{"s":"Co(bpy)3","x":307,"y":0.42},{"s":"Co(bpy)3","x":308,"y":0.375},{"s":"Co(bpy)3","x":309,"y":0.325},{"s":"Co(bpy)3","x":310,"y":0.275},{"s":"Co(bpy)3","x":311,"y":0.235},{"s":"Co(bpy)3","x":312,"y":0.205},{"s":"Co(bpy)3","x":313,"y":0.178},{"s":"Co(bpy)3","x":314,"y":0.158},{"s":"Co(bpy)3","x":315,"y":0.143},{"s":"Co(bpy)3","x":316,"y":0.132},{"s":"Co(bpy)3","x":318,"y":0.115},{"s":"Co(bpy)3","x":320,"y":0.1},{"s":"Co(bpy)3","x":322,"y":0.088},{"s":"Co(bpy)3","x":324,"y":0.078},{"s":"Co(bpy)3","x":326,"y":0.069},{"s":"Co(bpy)3","x":328,"y":0.061},{"s":"Co(bpy)3","x":330,"y":0.054},{"s":"Co(bpy)3","x":332,"y":0.047},{"s":"Co(bpy)3","x":334,"y":0.041},{"s":"Co(bpy)3","x":336,"y":0.036},{"s":"Co(bpy)3","x":338,"y":0.031},{"s":"Co(bpy)3","x":340,"y":0.027},{"s":"Co(bpy)3","x":345,"y":0.02},{"s":"Co(bpy)3","x":350,"y":0.015},{"s":"Co(bpy)3","x":355,"y":0.012},{"s":"Co(bpy)3","x":360,"y":0.0095},{"s":"Co(bpy)3","x":365,"y":0.008},{"s":"Co(bpy)3","x":370,"y":0.007},{"s":"Co(bpy)3","x":375,"y":0.0065},{"s":"Co(bpy)3","x":380,"y":0.006},{"s":"Co(bpy)3","x":385,"y":0.005},{"s":"Co(bpy)3","x":390,"y":0.005},{"s":"Co(bpy)3","x":395,"y":0.005},{"s":"Co(bpy)3","x":400,"y":0.005},{"s":"Co(bpy)3","x":405,"y":0.005},{"s":"Co(bpy)3","x":410,"y":0.005},{"s":"Co(bpy)3","x":415,"y":0.005},{"s":"Co(bpy)3","x":420,"y":0.005},{"s":"Co(bpy)3","x":425,"y":0.005},{"s":"Co(bpy)3","x":430,"y":0.005},{"s":"Co(bpy)3","x":435,"y":0.005},{"s":"Co(bpy)3","x":440,"y":0.005},{"s":"Co(bpy)3","x":445,"y":0.005},{"s":"Co(bpy)3","x":450,"y":0.005},{"s":"Co(bpy)3","x":455,"y":0.005},{"s":"Co(bpy)3","x":460,"y":0.005},{"s":"Co(bpy)3","x":465,"y":0.005},{"s":"Co(bpy)3","x":470,"y":0.005},{"s":"Co(bpy)3","x":475,"y":0.005},{"s":"Co(bpy)3","x":480,"y":0.005},{"s":"Co(bpy)3","x":485,"y":0.005},{"s":"Co(bpy)3","x":490,"y":0.005},{"s":"Co(bpy)3","x":495,"y":0.005},{"s":"Co(bpy)3","x":500,"y":0.005},{"s":"Co(bpy)3","x":505,"y":0.005},{"s":"Co(bpy)3","x":510,"y":0.005},{"s":"Co(bpy)3","x":515,"y":0.005},{"s":"Co(bpy)3","x":520,"y":0.005},{"s":"Co(bpy)3","x":525,"y":0.005},{"s":"Co(bpy)3","x":530,"y":0.005},{"s":"Co(bpy)3","x":535,"y":0.005},{"s":"Co(bpy)3","x":540,"y":0.005},{"s":"Co(bpy)3","x":545,"y":0.005},{"s":"Co(bpy)3","x":550,"y":0.005},{"s":"Co(bpy)3","x":555,"y":0.005},{"s":"Co(bpy)3","x":560,"y":0.005},{"s":"Co(bpy)3","x":565,"y":0.005},{"s":"Co(bpy)3","x":570,"y":0.005},{"s":"Co(bpy)3","x":575,"y":0.005},{"s":"Co(bpy)3","x":580,"y":0.005},{"s":"Co(bpy)3","x":585,"y":0.005},{"s":"Co(bpy)3","x":590,"y":0.005},{"s":"Co(bpy)3","x":595,"y":0.005},{"s":"Co(bpy)3","x":600,"y":0.005},{"s":"Co(bpy)3","x":605,"y":0.005},{"s":"Co(bpy)3","x":610,"y":0.005},{"s":"Co(bpy)3","x":615,"y":0.005},{"s":"Co(bpy)3","x":620,"y":0.005},{"s":"Co(bpy)3","x":625,"y":0.005},{"s":"Co(bpy)3","x":630,"y":0.005},{"s":"Co(bpy)3","x":635,"y":0.005},{"s":"Co(bpy)3","x":640,"y":0.005},{"s":"Co(bpy)3","x":645,"y":0.005},{"s":"Co(bpy)3","x":650,"y":0.005},{"s":"Co(bpy)3","x":655,"y":0.005},{"s":"Co(bpy)3","x":660,"y":0.005},{"s":"Co(bpy)3","x":665,"y":0.005},{"s":"Co(bpy)3","x":670,"y":0.005},{"s":"Co(bpy)3","x":675,"y":0.005},{"s":"Co(bpy)3","x":680,"y":0.005},{"s":"Co(bpy)3","x":685,"y":0.005},{"s":"Co(bpy)3","x":690,"y":0.005},{"s":"Co(bpy)3","x":695,"y":0.005},{"s":"Co(bpy)3","x":700,"y":0.005}
]
},
"vconcat":[
{"hconcat":[
{"width":401,"height":294,"title":{"text":"(a)","offset":-44},"data":{"name":"a"},
"encoding":{
"x":{"field":"x","type":"quantitative","scale":{"domain":[350,800],"nice":false,"zero":false},"axis":{"title":"Wave length (nm)","values":[350,400,450,500,550,600,650,700,750,800],"format":"d","labelExpr":"datum.value % 100 === 0 ? datum.label : ''","tickSize":{"condition":{"test":"datum.value % 100 === 0","value":5},"value":3}}},
"y":{"field":"y","type":"quantitative","scale":{"domain":[0,5],"nice":false},"axis":{"title":"Absorbance (AU)","values":[0,0.5,1,1.5,2,2.5,3,3.5,4,4.5,5],"format":".0f","labelExpr":"datum.value % 1 === 0 ? datum.label : ''","tickSize":{"condition":{"test":"datum.value % 1 === 0","value":5},"value":3}}}
},
"layer":[
{"mark":{"type":"line","strokeWidth":1},"encoding":{"stroke":{"field":"s","type":"nominal","scale":{"domain":["DCA10CN2","C343","DCBZ","SQ"],"range":["#FF8000","#008000","#FF0000","#0000FF"]},"legend":{"orient":"none","legendX":103,"legendY":15,"symbolType":"stroke","symbolSize":900,"symbolStrokeWidth":1.5,"labelOffset":8}}}},
{"mark":{"type":"point","filled":true,"opacity":1,"size":58},"encoding":{
"color":{"field":"s","type":"nominal","sort":["DCA10CN2","C343","DCBZ","SQ"],"scale":{"range":["#FF8000","#008000","#FF0000","#0000FF"]},"legend":{"orient":"none","legendX":107,"legendY":15,"symbolSize":30,"symbolStrokeWidth":0,"labelExpr":"''"}},
"shape":{"field":"s","type":"nominal","sort":["DCA10CN2","C343","DCBZ","SQ"],"scale":{"range":["square","circle","triangle-up","triangle-down"]},"legend":{"orient":"none","legendX":107,"legendY":15,"symbolSize":30,"symbolStrokeWidth":0,"labelExpr":"''"}}}}
]},
{"width":394,"height":294,"title":{"text":"(b)","offset":-43},"data":{"name":"b"},
"encoding":{
"x":{"field":"x","type":"quantitative","scale":{"domain":[350,800],"nice":false,"zero":false},"axis":{"title":"Wave length (nm)","values":[350,400,450,500,550,600,650,700,750,800],"format":"d","labelExpr":"datum.value % 100 === 0 ? datum.label : ''","tickSize":{"condition":{"test":"datum.value % 100 === 0","value":5},"value":3}}},
"y":{"field":"y","type":"quantitative","scale":{"domain":[0,1],"nice":false},"axis":{"title":"Absorbance (AU)","values":[0,0.1,0.2,0.3,0.4,0.5,0.6,0.7,0.8,0.9,1],"format":".1f","labelExpr":"round(datum.value*10) % 2 === 0 ? datum.label : ''","tickSize":{"condition":{"test":"round(datum.value*10) % 2 === 0","value":5},"value":3}}}
},
"layer":[
{"mark":{"type":"line","strokeWidth":1},"encoding":{"stroke":{"field":"s","type":"nominal","scale":{"domain":["DPA10CN2","C343","DCBZ","SQ"],"range":["#FF8000","#008000","#FF0000","#000080"]},"legend":{"orient":"none","legendX":123,"legendY":16,"symbolType":"stroke","symbolSize":900,"symbolStrokeWidth":1.5,"labelOffset":8}}}},
{"mark":{"type":"point","filled":true,"opacity":1,"size":55},"encoding":{
"color":{"field":"s","type":"nominal","sort":["DPA10CN2","C343","DCBZ","SQ"],"scale":{"range":["#FF8000","#008000","#FF0000","#000080"]},"legend":{"orient":"none","legendX":127,"legendY":16,"symbolSize":30,"symbolStrokeWidth":0,"labelExpr":"''"}},
"shape":{"field":"s","type":"nominal","sort":["DPA10CN2","C343","DCBZ","SQ"],"scale":{"range":["square","circle","triangle-up","triangle-down"]},"legend":{"orient":"none","legendX":127,"legendY":16,"symbolSize":30,"symbolStrokeWidth":0,"labelExpr":"''"}}}}
]}
],"spacing":85,
"resolve":{"scale":{"x":"independent","y":"independent","color":"independent","shape":"independent","stroke":"independent"},"legend":{"color":"independent","shape":"independent","stroke":"independent"}}},
{"hconcat":[
{"width":258,"height":10,"data":{"values":[{"k":0}]},"mark":{"type":"point","opacity":0},"view":{"stroke":null}},
{"width":397,"height":323,"title":{"text":"(c)","offset":-40},"data":{"name":"c"},
"encoding":{
"x":{"field":"x","type":"quantitative","scale":{"domain":[250,700],"nice":false,"zero":false},"axis":{"title":"Wavelength (nm)","values":[250,300,350,400,450,500,550,600,650,700],"format":"d","labelExpr":"datum.value % 100 === 0 ? datum.label : ''","tickSize":{"condition":{"test":"datum.value % 100 === 0","value":5},"value":3}}},
"y":{"field":"y","type":"quantitative","scale":{"domain":[0,0.55],"nice":false},"axis":{"title":"Absorbance (AU)","values":[0,0.125,0.25,0.375,0.5],"format":".2f","labelExpr":"round(datum.value*8) % 2 === 0 ? datum.label : ''","tickSize":{"condition":{"test":"round(datum.value*8) % 2 === 0","value":5},"value":3}}}
},
"layer":[
{"mark":{"type":"line","strokeWidth":1},"encoding":{"stroke":{"field":"s","type":"nominal","scale":{"domain":["Iodide","Co(bpy)3"],"range":["#000000","#FF0000"]},"legend":{"orient":"none","legendX":129,"legendY":29,"symbolType":"stroke","symbolSize":900,"symbolStrokeWidth":1.5,"labelOffset":8}}}},
{"mark":{"type":"point","filled":true,"opacity":1,"size":55},"encoding":{
"color":{"field":"s","type":"nominal","sort":["Iodide","Co(bpy)3"],"scale":{"range":["#000000","#FF0000"]},"legend":{"orient":"none","legendX":133,"legendY":29,"symbolSize":40,"symbolStrokeWidth":0,"labelExpr":"''"}},
"shape":{"field":"s","type":"nominal","sort":["Iodide","Co(bpy)3"],"scale":{"range":["square","circle"]},"legend":{"orient":"none","legendX":133,"legendY":29,"symbolSize":40,"symbolStrokeWidth":0,"labelExpr":"''"}}}}
]}
],"spacing":0,
"resolve":{"scale":{"x":"independent","y":"independent","color":"independent","shape":"independent","stroke":"independent"},"legend":{"color":"independent","shape":"independent","stroke":"independent"}}}
]
}
